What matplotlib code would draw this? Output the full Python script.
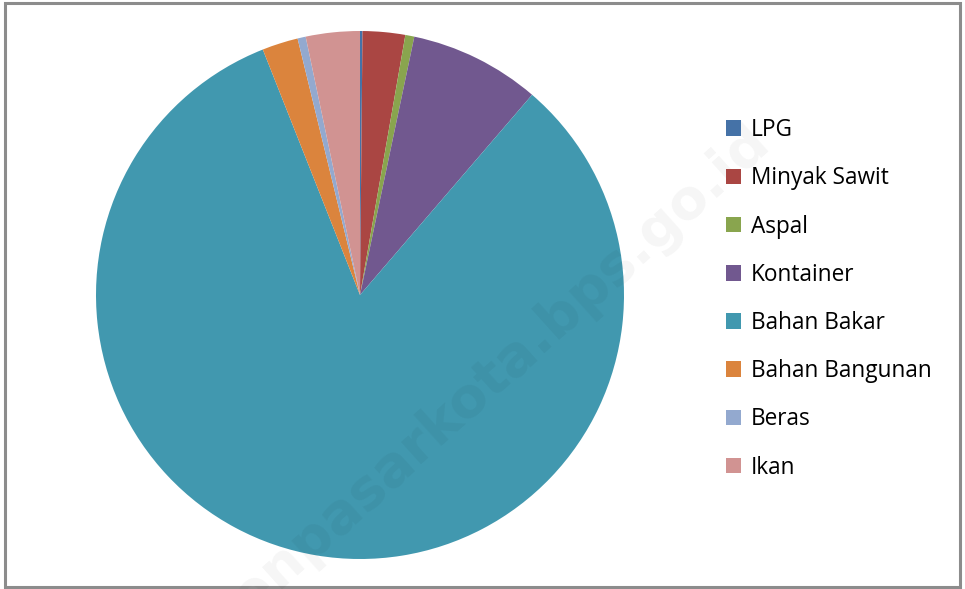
import matplotlib.pyplot as plt
from matplotlib.patches import Rectangle, Patch

labels = ["LPG", "Minyak Sawit", "Aspal", "Kontainer", "Bahan Bakar",
          "Bahan Bangunan", "Beras", "Ikan"]
shares = [0.15, 2.6, 0.55, 8.0, 82.7, 2.2, 0.5, 3.3]
colors = ["#4572A7", "#AA4643", "#89A54E", "#71588F", "#4198AF",
          "#DB843D", "#93A9CF", "#D19392"]

W, H = 965, 589
fig = plt.figure(figsize=(W / 100, H / 100), dpi=100)

# outer chart frame
fig.patches.append(Rectangle((5 / W, 2 / H), 955 / W, 584 / H, transform=fig.transFigure,
                             fill=False, edgecolor="#8c8c8c", linewidth=2.2))

cx, cy, r = 360, 295, 264
ax = fig.add_axes([(cx - r) / W, (H - cy - r) / H, 2 * r / W, 2 * r / H])
ax.pie(shares, colors=colors, startangle=90, counterclock=False,
       wedgeprops=dict(linewidth=0))
ax.set_xlim(-1, 1)
ax.set_ylim(-1, 1)
ax.set_aspect("equal")

handles = [Patch(facecolor=c, edgecolor="none") for c in colors]
fig.legend(handles, labels, loc="upper left", bbox_to_anchor=(717 / W, 1 - 109 / H),
           frameon=False, prop={"family": "Open Sans", "size": 16.3},
           handlelength=0.68, handleheight=0.68, handletextpad=0.42,
           labelspacing=1.07, borderaxespad=0)

# site watermark
fig.text(0.505, 0.35, "denpasarkota.bps.go.id", rotation=42, ha="center", va="center",
         fontsize=40, fontweight="bold", color="black", alpha=0.04,
         family="DejaVu Sans")

fig.savefig("out.png", dpi=100)
